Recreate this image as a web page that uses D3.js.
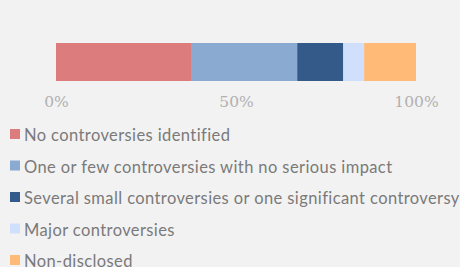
<html>
  <head>
    <style>
      body { margin: 0; background: #f2f2f2; }
      .tick text { fill: #b0b0b0; font-family: "DejaVu Serif", serif; font-size: 15.5px; }
      .legend text { fill: #7a7a7a; font-family: Lato, "Noto Sans", sans-serif; font-size: 16.5px; letter-spacing: 0.4px; }
    </style>
    <script src="https://d3js.org/d3.v7.min.js"></script>
  </head>
  <body></body>
</html>

<script>
  var categories = [
    "No controversies identified",
    "One or few controversies with no serious impact",
    "Several small controversies or one significant controversy",
    "Major controversies",
    "Non-disclosed"
  ];
  var values = [37.5, 29.5, 12.8, 5.8, 14.4];
  var colors = ["#dd7c7c", "#8aaad1", "#335a88", "#d0dffc", "#ffba77"];
  var tickValues = [0, 50, 100];

  var width = 460, height = 267;

  var svg = d3.select("body")
    .append("svg")
    .attr("width", width)
    .attr("height", height)
    .style("background-color", "#f2f2f2");

  var xScale = d3.scaleLinear()
    .domain([0, 100])
    .range([56, 416]);

  // stacked offsets
  var stack = [];
  var acc = 0;
  values.forEach((v, i) => {
    stack.push({ start: acc, end: acc + v, color: colors[i] });
    acc += v;
  });

  svg.selectAll("rect.seg")
    .data(stack)
    .enter()
    .append("rect")
    .attr("class", "seg")
    .attr("x", d => xScale(d.start))
    .attr("width", d => xScale(d.end) - xScale(d.start))
    .attr("y", 43)
    .attr("height", 38)
    .attr("fill", d => d.color);

  var xAxis = d3.axisBottom(xScale)
    .tickValues(tickValues)
    .tickFormat(d => d + "%")
    .tickSize(0)
    .tickPadding(0);

  var axisG = svg.append("g")
    .attr("transform", "translate(0, 96)")
    .call(xAxis);
  axisG.select(".domain").remove();

  var legend = svg.append("g").attr("class", "legend");
  var items = legend.selectAll("g")
    .data(categories)
    .enter()
    .append("g")
    .attr("transform", (d, i) => "translate(10, " + (129 + i * 31.5) + ")");

  items.append("rect")
    .attr("width", 10)
    .attr("height", 10)
    .attr("fill", (d, i) => colors[i]);

  items.append("text")
    .attr("x", 14)
    .attr("y", 12)
    .text(d => d);
</script>
